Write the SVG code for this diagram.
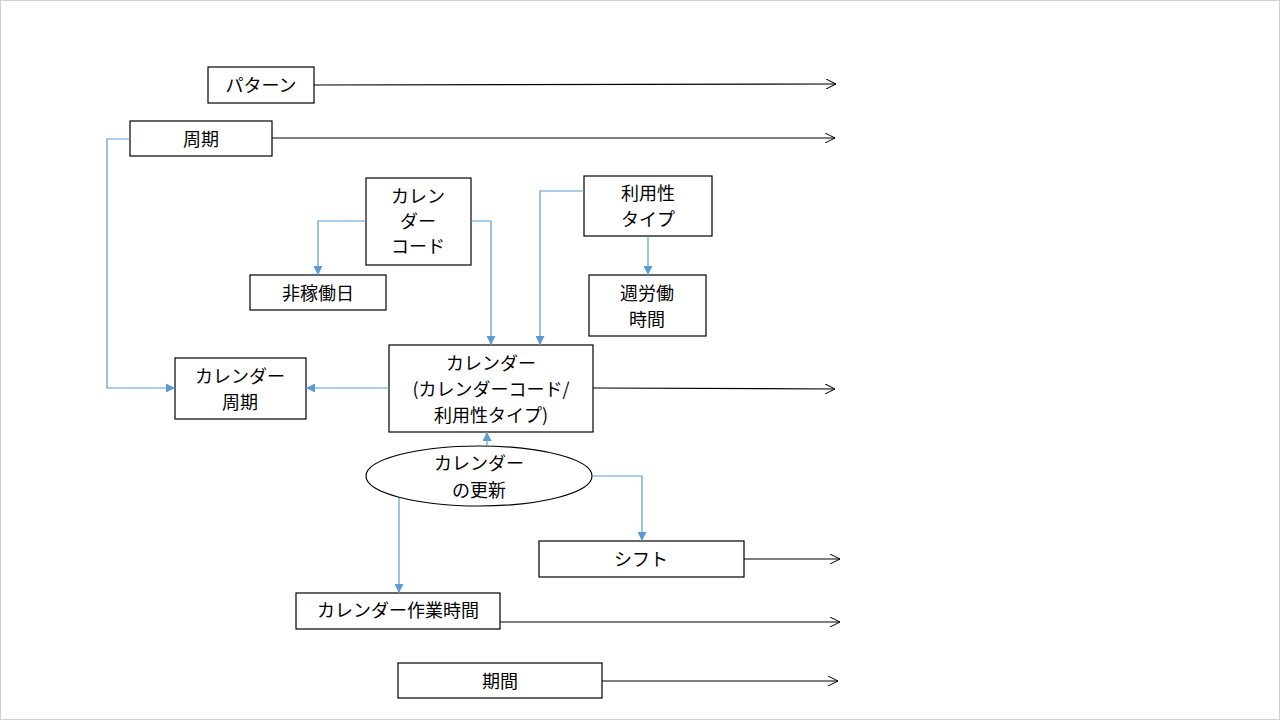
<svg xmlns="http://www.w3.org/2000/svg" width="1280" height="720" viewBox="0 0 1280 720">
<defs>
<marker id="open" viewBox="0 0 10 10" refX="10" refY="5" markerWidth="10" markerHeight="10" markerUnits="userSpaceOnUse" orient="auto">
<path d="M0,0 L10,5 L0,10" fill="none" stroke="#000" stroke-width="1"/>
</marker>
<marker id="tri" viewBox="0 0 10 10" refX="10" refY="5" markerWidth="9" markerHeight="9" markerUnits="userSpaceOnUse" orient="auto">
<path d="M0,0 L10,5 L0,10 Z" fill="#5B9BD5"/>
</marker>
</defs>
<style>
.box{fill:#fff;stroke:#000;stroke-width:1.2}
.t{font-family:"Noto Sans CJK JP","Liberation Sans",sans-serif;font-size:18px;fill:#000;text-anchor:middle;dominant-baseline:central}
.blk{fill:none;stroke:#000;stroke-width:1.2;marker-end:url(#open)}
.blu{fill:none;stroke:#5B9BD5;stroke-width:1.2;marker-end:url(#tri)}
</style>
<rect x="0.5" y="0.5" width="1279" height="719" fill="#fff" stroke="#d0d0d0"/>
<g id="pattern"><rect class="box" x="208" y="67" width="106" height="36"/><text class="t" x="261" y="84">パターン</text></g>
<g id="cycle"><rect class="box" x="130" y="121" width="142" height="35"/><text class="t" x="201" y="138">周期</text></g>
<g id="calcode"><rect class="box" x="366" y="178" width="105" height="87"/><text class="t" x="418" y="195">カレン</text><text class="t" x="418" y="220">ダー</text><text class="t" x="418" y="245">コード</text></g>
<g id="nonwork"><rect class="box" x="250" y="275" width="136" height="35"/><text class="t" x="318" y="292">非稼働日</text></g>
<g id="availtype"><rect class="box" x="584" y="176" width="128" height="60"/><text class="t" x="648" y="192">利用性</text><text class="t" x="648" y="218">タイプ</text></g>
<g id="weekhours"><rect class="box" x="589" y="275" width="117" height="61"/><text class="t" x="647" y="292">週労働</text><text class="t" x="647" y="318">時間</text></g>
<g id="calcycle"><rect class="box" x="175" y="358" width="131" height="61"/><text class="t" x="240" y="375">カレンダー</text><text class="t" x="240" y="401">周期</text></g>
<g id="calendar"><rect class="box" x="389" y="345" width="204" height="87"/><text class="t" x="491" y="362">カレンダー</text><text class="t" x="491" y="388">(カレンダーコード/</text><text class="t" x="491" y="414">利用性タイプ)</text></g>
<g id="calupdate"><ellipse class="box" cx="479" cy="476" rx="113" ry="30"/><text class="t" x="479" y="462">カレンダー</text><text class="t" x="479" y="489">の更新</text></g>
<g id="shift"><rect class="box" x="539" y="541" width="205" height="36"/><text class="t" x="641" y="558">シフト</text></g>
<g id="calworktime"><rect class="box" x="296" y="593" width="204" height="36"/><text class="t" x="398" y="609">カレンダー作業時間</text></g>
<g id="period"><rect class="box" x="398" y="663" width="204" height="35"/><text class="t" x="500" y="680">期間</text></g>
<g id="connectors">
<path class="blk" d="M314,85 L836,84"/>
<path class="blk" d="M272,138 L835,138"/>
<path class="blk" d="M593,388 L835,389"/>
<path class="blk" d="M744,559 L840,559"/>
<path class="blk" d="M500,622 L840,622"/>
<path class="blk" d="M602,681 L838,681"/>
<path class="blu" d="M130,139 H107 V388 H175"/>
<path class="blu" d="M366,221 H318 V275"/>
<path class="blu" d="M471,221 H491 V345"/>
<path class="blu" d="M584,191 H540 V345"/>
<path class="blu" d="M648,236 V275"/>
<path class="blu" d="M389,388 H306"/>
<path class="blu" d="M487,446 V432"/>
<path class="blu" d="M592,476 H642 V541"/>
<path class="blu" d="M399,498 V593"/>
</g>
</svg>
